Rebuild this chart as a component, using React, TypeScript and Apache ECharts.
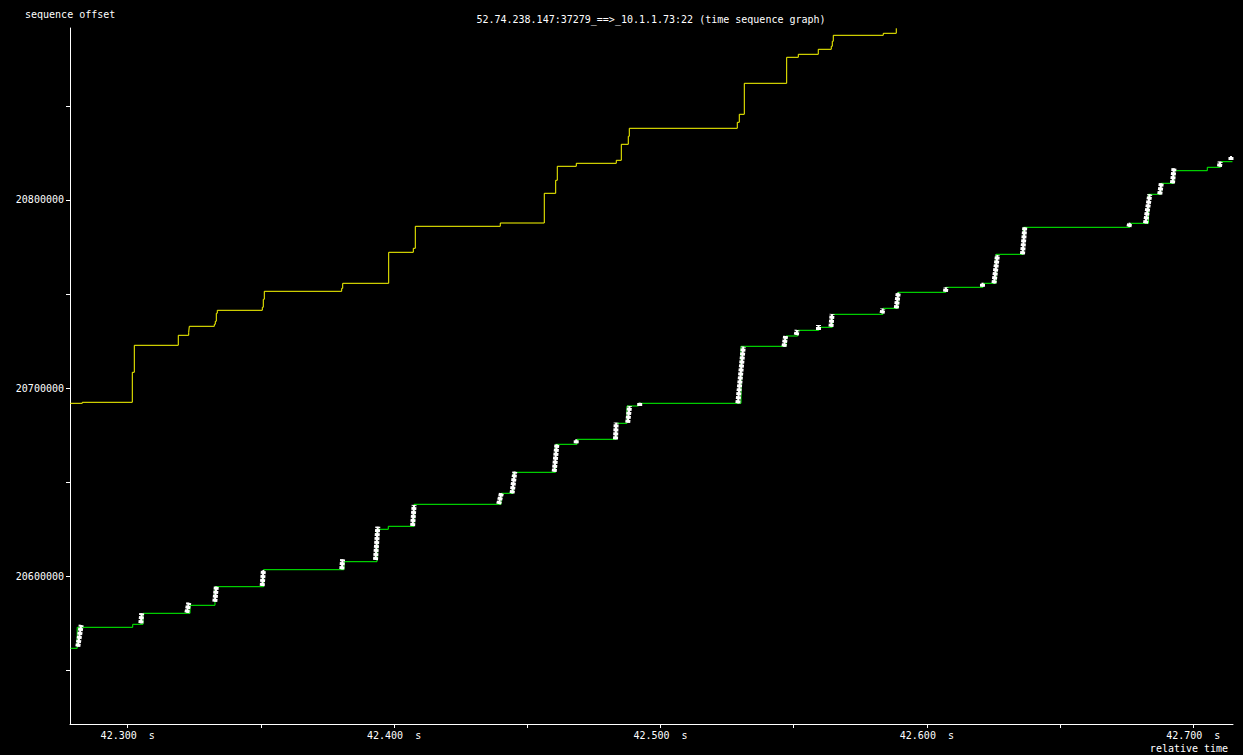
import React, { useEffect, useRef } from "react";
import * as echarts from "echarts";

// ---- axis / labels ----
const titleText = "52.74.238.147:37279_==>_10.1.1.73:22 (time sequence graph)";
const yAxisName = "sequence offset";
const xAxisName = "relative time";
const xMin = 42.27834;
const xMax = 42.71491;
const yMin = 20521719;
const yMax = 20891344;
const xTickValues = [42.3, 42.35, 42.4, 42.45, 42.5, 42.55, 42.6, 42.65, 42.7];
const xLabelValues = [42.3, 42.4, 42.5, 42.6, 42.7];
const yTickValues = [20550000, 20600000, 20650000, 20700000, 20750000, 20800000, 20850000];
const yLabelValues = [20600000, 20700000, 20800000];

// ---- receive window (yellow) : [time s, sequence] ----
const windowTimes = [
  42.27834, 42.28296, 42.30173, 42.30248, 42.31899, 42.3229, 42.32312, 42.33251, 42.33288, 42.33326,
  42.33363, 42.35053, 42.3509, 42.35128, 42.38033, 42.38071, 42.39797, 42.40721, 42.40796, 42.43986,
  42.45638, 42.46066, 42.46126, 42.46839, 42.48341, 42.48529, 42.48791, 42.48829, 42.52883, 42.52958,
  42.53146, 42.54737, 42.55173, 42.55923, 42.56411, 42.56449, 42.56486, 42.58363, 42.58851,
];
const windowSeq = [
  20692033, 20692564, 20708497, 20722836, 20728146, 20729740, 20732926, 20733988, 20735581, 20739830,
  20741423, 20743016, 20747265, 20751514, 20753107, 20755762, 20772225, 20774349, 20786033, 20787785,
  20803558, 20810462, 20817897, 20819490, 20821083, 20829581, 20833829, 20838078, 20841264, 20845513,
  20861976, 20875784, 20877377, 20880032, 20881626, 20884281, 20887468, 20888530, 20891184,
];

// ---- ACK line (green) ----
const ackTimes = [
  42.27853, 42.28104, 42.30188, 42.30574, 42.32339, 42.33277, 42.35098, 42.38119, 42.39358, 42.39782,
  42.40747, 42.44013, 42.44482, 42.46059, 42.46866, 42.48348, 42.48743, 42.49174, 42.53022, 42.54711,
  42.5515, 42.55942, 42.56449, 42.58352, 42.58915, 42.60709, 42.62106, 42.62594, 42.63626, 42.67624,
  42.68318, 42.6878, 42.69276, 42.70526, 42.71021, 42.71471,
];
const ackSeq = [
  20561921, 20573074, 20574667, 20580509, 20584757, 20594635, 20603663, 20607912, 20625119, 20626712,
  20638395, 20644237, 20655390, 20670260, 20672915, 20681412, 20690600, 20692033, 20722304, 20727774,
  20730802, 20732395, 20739299, 20742485, 20750982, 20753638, 20755762, 20771163, 20785502, 20787626,
  20803027, 20808869, 20815560, 20817366, 20820340, 20820340,
];

// ---- data segment bursts (white) : start time, end time, first seq, last seq ----
const burstStartTimes = [
  42.28127, 42.30495, 42.32222, 42.3327, 42.35049, 42.38037, 42.39302, 42.40695, 42.43926, 42.44429,
  42.4601, 42.46836, 42.48311, 42.48769, 42.49219, 42.52905, 42.54636, 42.55098, 42.55931, 42.564,
  42.58318, 42.58851, 42.60698, 42.62087, 42.62519, 42.63589, 42.67586, 42.68206, 42.68742, 42.69219,
  42.70983, 42.71415,
];
const burstEndTimes = [
  42.28255, 42.30526, 42.32294, 42.33326, 42.35094, 42.38067, 42.39388, 42.40751, 42.44028, 42.44531,
  42.46111, 42.46836, 42.48337, 42.4884, 42.49219, 42.53108, 42.54696, 42.55128, 42.55931, 42.56441,
  42.58348, 42.58926, 42.60717, 42.62087, 42.6265, 42.63675, 42.67617, 42.68367, 42.68799, 42.69276,
  42.7101, 42.71415,
];
const burstStartSeq = [
  20562771, 20575198, 20580827, 20586669, 20595007, 20603875, 20608815, 20626871, 20638555, 20644237,
  20655708, 20670791, 20672915, 20681731, 20690600, 20692033, 20722092, 20728306, 20730961, 20732713,
  20739830, 20742485, 20751301, 20753956, 20755762, 20771163, 20785820, 20787626, 20803027, 20808869,
  20817685, 20821243,
];
const burstEndSeq = [
  20574295, 20580509, 20586138, 20594635, 20603504, 20609187, 20626499, 20638024, 20644237, 20655708,
  20670260, 20672915, 20681731, 20690600, 20692352, 20722092, 20727774, 20730961, 20733616, 20739458,
  20742273, 20750770, 20753638, 20756081, 20770791, 20785502, 20787945, 20803027, 20808869, 20816835,
  20820340, 20823367,
];

const FONT = "DejaVu Sans Mono";

export default function App() {
  const ref = useRef<HTMLDivElement | null>(null);

  useEffect(() => {
    if (!ref.current) return;
    const chart = echarts.init(ref.current, undefined, { renderer: "svg" });

    const windowData = windowTimes.map((t, i) => [t, windowSeq[i]]);
    const ackData = ackTimes.map((t, i) => [t, ackSeq[i]]);
    const burstData = burstStartTimes.map((t, i) => [t, burstEndTimes[i], burstStartSeq[i], burstEndSeq[i]]);

    const axisTextStyle = { color: "#ffffff", fontFamily: FONT, fontSize: 10 };

    chart.setOption({
      animation: false,
      backgroundColor: "#000000",
      grid: { left: 70, right: 10, top: 28, bottom: 31, containLabel: false, outerBoundsMode: "none" },
      xAxis: {
        type: "value",
        min: xMin,
        max: xMax,
        axisLine: { show: true, onZero: false, lineStyle: { color: "#ffffff", width: 1 } },
        axisTick: { show: true, length: 4, customValues: xTickValues, lineStyle: { color: "#ffffff" } },
        axisLabel: {
          show: true,
          customValues: xLabelValues,
          margin: 6,
          ...axisTextStyle,
          formatter: (v: number) => v.toFixed(3) + "  s",
        },
        splitLine: { show: false },
      },
      yAxis: {
        type: "value",
        min: yMin,
        max: yMax,
        axisLine: { show: true, onZero: false, lineStyle: { color: "#ffffff", width: 1 } },
        axisTick: { show: true, length: 4, customValues: yTickValues, lineStyle: { color: "#ffffff" } },
        axisLabel: {
          show: true,
          customValues: yLabelValues,
          margin: 6,
          ...axisTextStyle,
          formatter: (v: number) => String(Math.round(v)),
        },
        splitLine: { show: false },
      },
      graphic: [
        {
          type: "text",
          x: 25,
          y: 14,
          style: { text: yAxisName, fill: "#ffffff", font: `10px "${FONT}"`, align: "left", verticalAlign: "middle" },
        },
        {
          type: "text",
          x: 651,
          y: 19,
          style: { text: titleText, fill: "#ffffff", font: `10px "${FONT}"`, align: "center", verticalAlign: "middle" },
        },
        {
          type: "text",
          x: 1189,
          y: 748,
          style: { text: xAxisName, fill: "#ffffff", font: `10px "${FONT}"`, align: "center", verticalAlign: "middle" },
        },
      ],
      series: [
        {
          name: "window",
          type: "line",
          step: "end",
          data: windowData,
          showSymbol: false,
          symbol: "none",
          lineStyle: { color: "#ffff00", width: 1 },
          z: 2,
        },
        {
          name: "ack",
          type: "line",
          step: "end",
          data: ackData,
          showSymbol: false,
          symbol: "none",
          lineStyle: { color: "#00ff00", width: 1 },
          z: 3,
        },
        {
          name: "segments",
          type: "custom",
          data: burstData,
          encode: { x: [0, 1], y: [2, 3] },
          z: 4,
          clip: false,
          renderItem: (params: any, api: any) => {
            const p0 = api.coord([api.value(0), api.value(2)]);
            const p1 = api.coord([api.value(1), api.value(3)]);
            return {
              type: "group",
              children: [
                {
                  type: "line",
                  shape: { x1: p0[0], y1: p0[1], x2: p1[0], y2: p1[1] },
                  style: { stroke: "#ffffff", lineWidth: 5, lineDash: [3, 1] },
                },
                {
                  type: "line",
                  shape: { x1: p0[0], y1: p0[1], x2: p1[0], y2: p1[1] },
                  style: { stroke: "#ffffff", lineWidth: 2 },
                },
              ],
            };
          },
        },
      ],
    });

    return () => {
      chart.dispose();
    };
  }, []);

  return (
    <div
      ref={ref}
      style={{ position: "fixed", left: 0, top: 0, width: 1243, height: 755, background: "#000000" }}
    />
  );
}
